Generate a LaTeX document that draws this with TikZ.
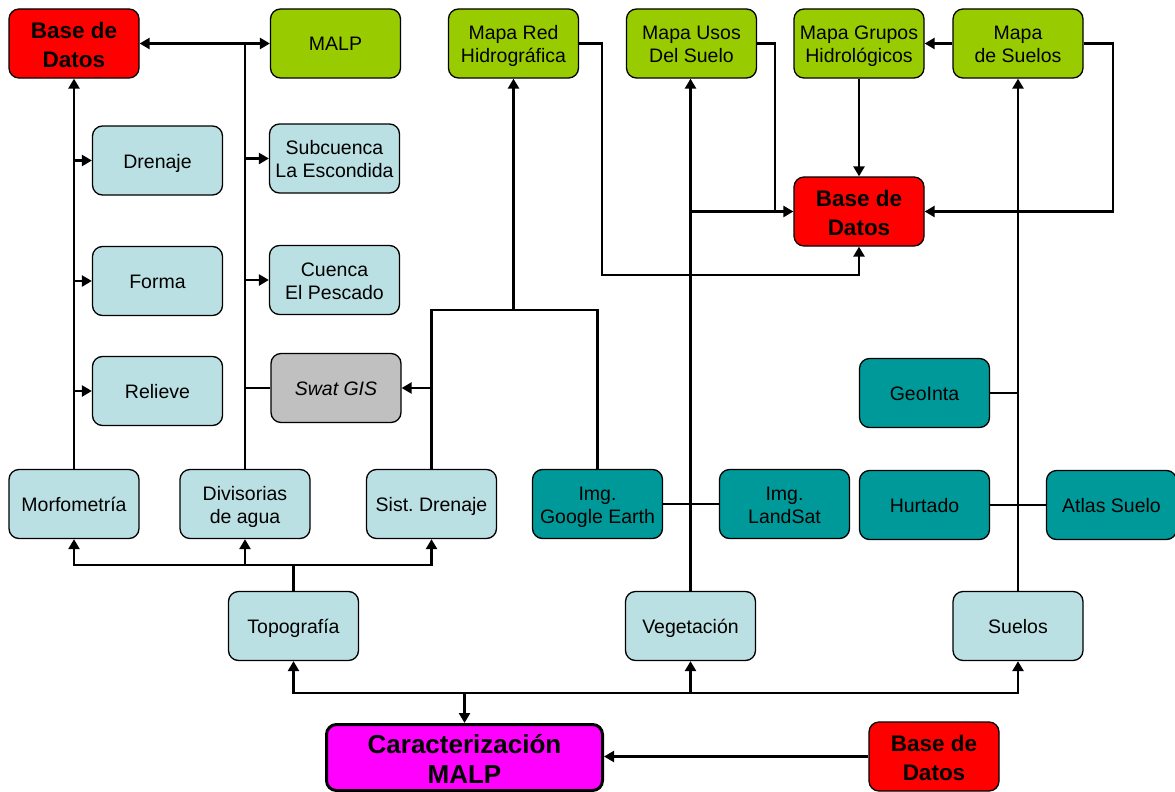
\documentclass[tikz,border=0pt]{standalone}
\usepackage{fontspec}
\setmainfont{Liberation Sans}
\usetikzlibrary{arrows.meta}
\definecolor{paleblue}{HTML}{BBE0E3}
\definecolor{leaf}{HTML}{99CC00}
\definecolor{tealbox}{HTML}{009999}
\definecolor{greybox}{HTML}{C0C0C0}
\definecolor{dbred}{HTML}{FF0000}
\definecolor{goalpink}{HTML}{FF00FF}
\frenchspacing
% struts fixing the vertical placement of the labels
\newcommand{\upst}{\rule{0pt}{20pt}}
\newcommand{\dnst}{\rule[-5pt]{0pt}{5pt}}
\newcommand{\bupst}{\rule{0pt}{21pt}}
\newcommand{\bdnst}{\rule[-2.5pt]{0pt}{2.5pt}}
\newcommand{\cupst}{\rule{0pt}{27pt}}
\newcommand{\cdnst}{\rule[-5pt]{0pt}{5pt}}
\begin{document}
\begin{tikzpicture}[x=1pt,y=-1pt,
  box/.style={draw=black, line width=1.3pt, rounded corners=10pt,
    minimum width=130pt, minimum height=69pt, align=center, inner sep=2pt,
    font=\fontsize{19.5}{23}\selectfont},
  pale/.style={box, fill=paleblue},
  mapbox/.style={box, fill=leaf},
  srcbox/.style={box, fill=tealbox},
  dbbox/.style={box, fill=dbred, font=\fontsize{22.5}{28.5}\selectfont\bfseries},
  conn/.style={line width=2.6pt},
  thinconn/.style={line width=2.1pt},
  arr/.style={conn, -{Triangle[length=10pt,width=11pt]}},
  darr/.style={conn, {Triangle[length=10pt,width=11pt]}-{Triangle[length=10pt,width=11pt]}}]
\useasboundingbox (0,0) rectangle (1175,792);

% top row
\node[dbbox]  (bdA)     at (74,43.5)    {\bupst Base de\\Datos\bdnst};
\node[mapbox] (malp)    at (335.5,43.5) {\upst MALP\dnst};
\node[mapbox] (red)     at (513.5,43.5) {\upst Mapa Red\\Hidrográfica\dnst};
\node[mapbox] (usos)    at (691.5,43.5) {\upst Mapa Usos\\Del Suelo\dnst};
\node[mapbox] (grupos)  at (859,43.5)   {\upst Mapa Grupos\\Hidrológicos\dnst};
\node[mapbox] (msuelos) at (1018,43.5)  {\upst Mapa\\de Suelos\dnst};

% left column products
\node[pale] (drenaje) at (157.5,160.5) {\upst Drenaje\dnst};
\node[pale] (forma)   at (157.5,281)   {\upst Forma\dnst};
\node[pale] (relieve) at (157.5,391)   {\upst Relieve\dnst};
\node[pale] (subc)    at (334.5,158.5) {\upst Subcuenca\\La Escondida\dnst};
\node[pale] (cuenca)  at (334.5,280)   {\upst Cuenca\\El Pescado\dnst};
\node[box, fill=greybox, font=\fontsize{19.5}{23}\selectfont\itshape] (swat) at (336,388) {\upst Swat GIS\dnst};

% central data base
\node[dbbox] (bdM) at (859,211.5) {\bupst Base de\\Datos\bdnst};

% sources
\node[srcbox] (geointa) at (924.5,393) {\upst GeoInta\dnst};
\node[pale] (morfo)   at (74,504)    {\upst Morfometría\dnst};
\node[pale] (divis)   at (245,504)   {\upst Divisorias\\de agua\dnst};
\node[pale] (sist)    at (431.5,504) {\upst Sist. Drenaje\dnst};
\node[srcbox] (google)  at (597.5,504) {\upst Img.\\Google Earth\dnst};
\node[srcbox] (landsat) at (784.5,504) {\upst Img.\\LandSat\dnst};
\node[srcbox] (hurtado) at (924.5,505) {\upst Hurtado\dnst};
\node[srcbox] (atlas)   at (1111.5,505) {\upst Atlas Suelo\dnst};

% themes
\node[pale] (topo)   at (293.5,626) {\upst Topografía\dnst};
\node[pale] (veget)  at (690.5,626) {\upst Vegetación\dnst};
\node[pale] (suelos) at (1018,626)  {\upst Suelos\dnst};

% goal
\node[box, fill=goalpink, line width=3pt, minimum width=276pt, minimum height=65pt,
  font=\fontsize{26}{30}\selectfont\bfseries] (carac) at (464.5,757.5) {\cupst Caracterización\\MALP\cdnst};
\node[dbbox] (bdB) at (934,756.5) {\bupst Base de\\Datos\bdnst};

% --- connectors ---
% Divisorias de agua trunk
\draw[darr] (bdA.east) -- (malp.west);
\draw[conn] (divis.north) -- (divis.north |- malp.west);
\draw[arr] (divis.north |- subc.west) -- (subc.west);
\draw[arr] (divis.north |- cuenca.west) -- (cuenca.west);
\draw[thinconn] (swat.west) -- (swat.west -| divis.north);

% Morfometria trunk
\draw[arr] (morfo.north) -- (bdA.south);
\draw[arr] (morfo.north |- drenaje.west) -- (drenaje.west);
\draw[arr] (morfo.north |- forma.west) -- (forma.west);
\draw[arr] (morfo.north |- relieve.west) -- (relieve.west);

% Topografia fan-out
\coordinate (tj) at (293.5,565);
\draw[conn] (topo.north) -- (tj);
\draw[arr] (tj) -| (morfo.south);
\draw[arr] (tj) -| (sist.south);
\draw[arr] (tj -| divis.south) -- (divis.south);

% drainage system and Google Earth
\coordinate (sj) at (432,310);
\draw[thinconn] (sist.north) -- (sist.north |- sj) -- (google.north |- sj) -- (google.north);
\draw[arr] (red.south |- sj) -- (red.south);
\draw[arr] (sist.north |- swat.east) -- (swat.east);
\draw[thinconn] (google.east) -- (landsat.west);

% vegetation branch
\draw[arr] (veget.north) -- (veget.north |- usos.south);
\draw[arr] (veget.north |- bdM.west) -- (bdM.west);
\coordinate (ue) at (775,43.5);
\draw[conn] (usos.east) -- (ue) -- (ue |- bdM.west);

% river map to data base
\coordinate (rc) at (602,275);
\draw[arr] (red.east) -| (rc) -| (bdM.south);

% soils branch
\draw[arr] (grupos.south) -- (bdM.north);
\draw[arr] (msuelos.west) -- (grupos.east);
\coordinate (se) at (1113,43.5);
\draw[arr] (msuelos.east) -- (se) |- (bdM.east);
\draw[arr] (suelos.north) -- (msuelos.south);
\draw[thinconn] (geointa.east) -- (geointa.east -| suelos.north);
\draw[thinconn] (hurtado.east) -- (atlas.west);

% bottom distribution
\coordinate (bj) at (464.5,693);
\draw[arr] (bj) -| (topo.south);
\draw[arr] (bj) -| (veget.south);
\draw[arr] (veget.south |- bj) -| (suelos.south);
\draw[arr] (bj) -- (carac.north);
\draw[arr, thinconn] (bdB.west) -- (bdB.west -| carac.east);
\end{tikzpicture}
\end{document}
